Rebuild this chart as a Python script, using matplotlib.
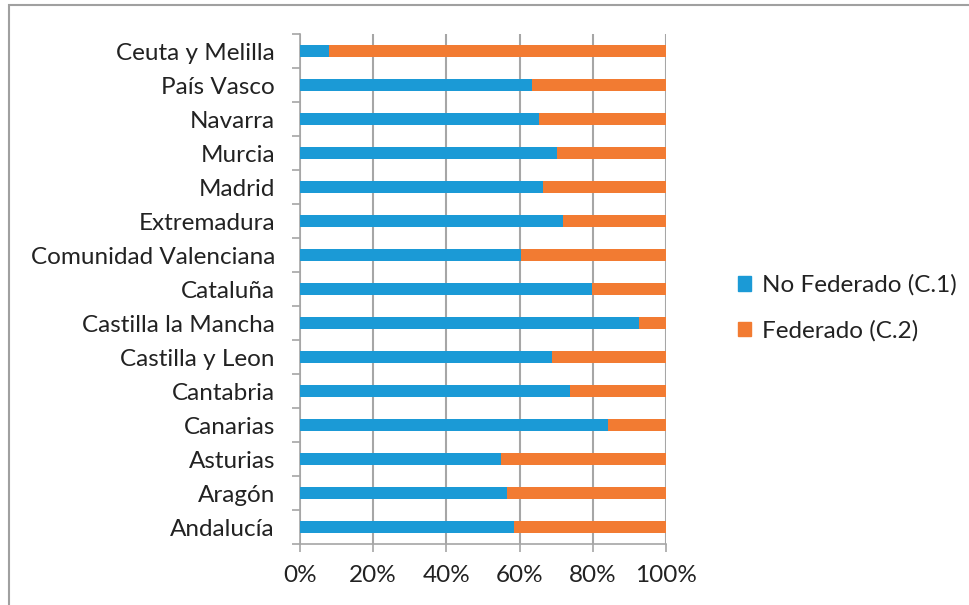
import matplotlib
matplotlib.use("Agg")
import matplotlib.pyplot as plt
from matplotlib.patches import Patch, Rectangle
from matplotlib.ticker import FixedLocator, PercentFormatter

plt.rcParams['font.family'] = ['Lato', 'DejaVu Sans']

# datos (de abajo hacia arriba)
regiones = ['Andalucía', 'Aragón', 'Asturias', 'Canarias', 'Cantabria',
            'Castilla y Leon', 'Castilla la Mancha', 'Cataluña',
            'Comunidad Valenciana', 'Extremadura', 'Madrid', 'Murcia',
            'Navarra', 'País Vasco', 'Ceuta y Melilla']
no_federado = [58.6, 56.5, 55.0, 84.2, 73.7, 68.8, 92.6, 79.7,
               60.3, 71.9, 66.3, 70.2, 65.2, 63.5, 8.0]
federado = [100 - v for v in no_federado]
nombres_serie = ['No Federado (C.1)', 'Federado (C.2)']
colores = ['#1B9AD6', '#F27B32']

fig = plt.figure(figsize=(9.7, 6.05), dpi=100)
ax = fig.add_axes([300 / 970, 1 - 544 / 605, 366 / 970, 510 / 605])

pos = range(len(regiones))
ax.barh(pos, no_federado, height=0.38, color=colores[0], zorder=3)
ax.barh(pos, federado, left=no_federado, height=0.38, color=colores[1], zorder=3)

ax.set_xlim(0, 100)
ax.set_ylim(-0.5, len(regiones) - 0.5)
ax.set_xticks([0, 20, 40, 60, 80, 100])
ax.xaxis.set_major_formatter(PercentFormatter(decimals=0))
ax.set_yticks(list(pos))
ax.set_yticklabels(regiones)
ax.yaxis.set_minor_locator(FixedLocator([i - 0.5 for i in range(len(regiones) + 1)]))

gris = '#A6A6A6'
tam = 17.5
ax.grid(axis='x', color=gris, linewidth=1.5, zorder=0)
for lado in ['top', 'right']:
    ax.spines[lado].set_visible(False)
for lado in ['left', 'bottom']:
    ax.spines[lado].set_color(gris)
    ax.spines[lado].set_linewidth(1.2)

ax.tick_params(axis='y', which='major', length=0, pad=18, labelsize=tam, labelcolor='#222222')
ax.tick_params(axis='y', which='minor', length=6, color=gris, width=1.2)
ax.tick_params(axis='x', which='major', length=6, color=gris, width=1.2, pad=9,
               labelsize=tam, labelcolor='#222222')

manejadores = [Patch(color=c) for c in colores]
fig.legend(manejadores, nombres_serie, loc='center left',
           bbox_to_anchor=(716 / 970, 1 - 308 / 605), frameon=False,
           fontsize=tam, handlelength=0.55, handleheight=0.55,
           handletextpad=0.45, labelspacing=1.0, labelcolor='#222222')

# marco exterior del grafico
fig.patches.append(Rectangle((9 / 970, -0.1), 1.2, 1.1 - 5 / 605,
                             transform=fig.transFigure, fill=False,
                             edgecolor='#A0A0A0', linewidth=1.5))

fig.savefig('out.png', dpi=100)
